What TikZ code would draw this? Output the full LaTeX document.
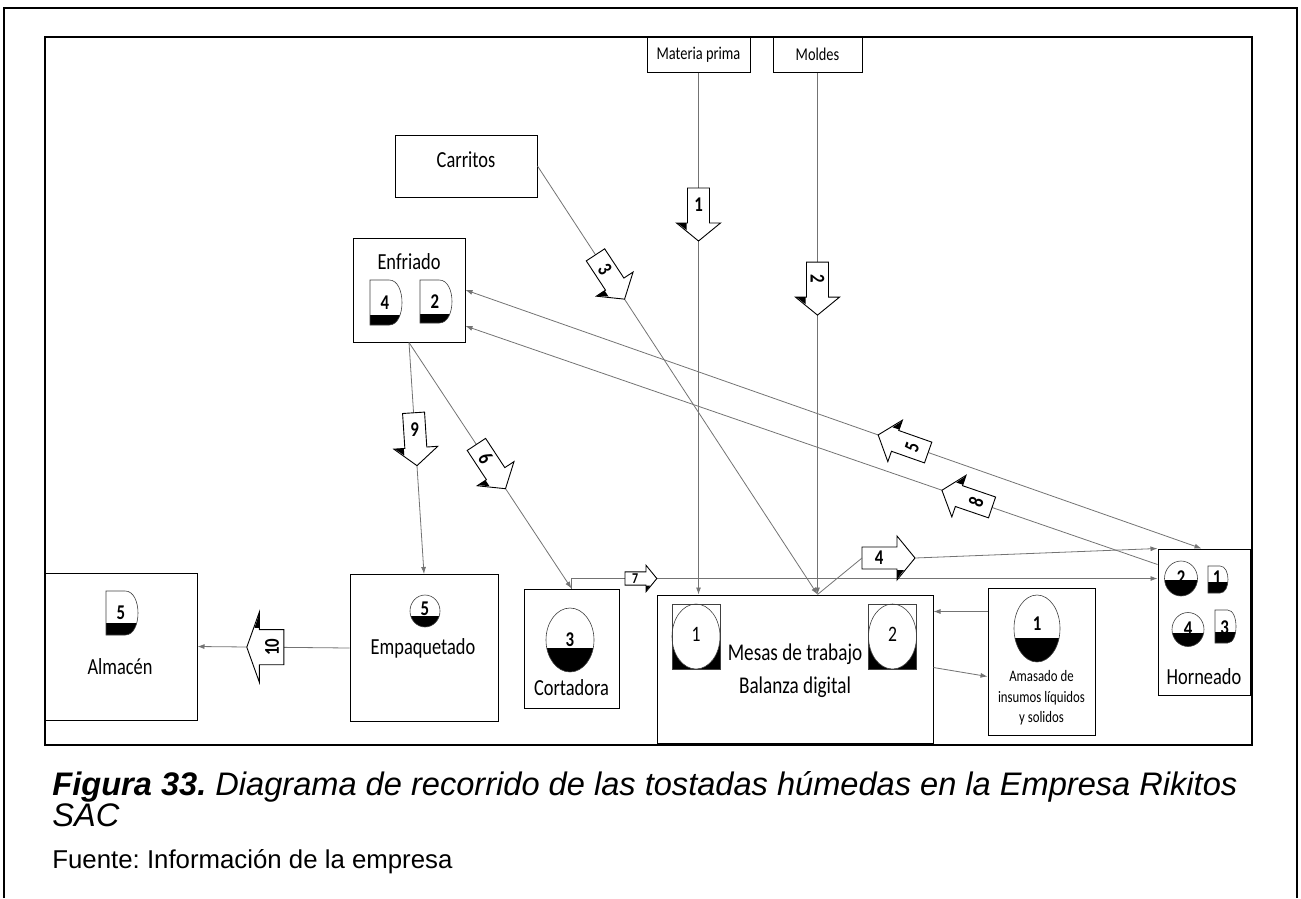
\documentclass[tikz,border=0pt]{standalone}
\usepackage{fontspec}
\usepackage{tikz}
\usetikzlibrary{arrows.meta,calc}
\newfontfamily\diagfont[FakeStretch=0.8]{Carlito}
\newfontfamily\capfont{Liberation Sans}
\frenchspacing
\tikzset{every picture/.style={line width=0.75pt}}
\tikzset{
  station/.style={draw, line width=1pt, inner sep=0pt},
  srcbox/.style={draw, line width=1pt, inner sep=0pt, font=\diagfont\fontsize{18}{20}\selectfont},
  lbl/.style={inner sep=0pt, align=center, font=\diagfont\fontsize{23}{26}\selectfont},
  link/.style={draw=black!55, line width=0.8pt},
  tip/.style={link, -{Latex[length=7pt,width=5pt]}},
  numfont/.style={inner sep=0pt, font=\diagfont\bfseries\fontsize{21}{21}\selectfont},
  symline/.style={line width=0.6pt, draw=black!75},
  % flow arrow with its number
  pics/flowarr/.style 2 args={code={
    \begin{scope}[yscale=-1]
    \draw[fill=white, line width=0.9pt] (-27,-11) -- (8,-11) -- (8,-22) -- (26,0) -- (8,22) -- (8,11) -- (-27,11) -- cycle;
    \fill (8,12) -- (15,12) -- (8,21) -- cycle;
    \coordinate (-tail) at (-27,0);
    \coordinate (-tip) at (26,0);
    \node[numfont, rotate=#2] at (-10,0) {#1};
    \end{scope}
  }},
  % operation: rx, ry, cut, number y, number
  pics/opsym/.style n args={5}{code={
    \begin{scope}[yscale=-1]
    \begin{scope}
      \clip (0,0) ellipse [x radius=#1, y radius=#2];
      \fill ({-#1},#3) rectangle (#1,#2);
    \end{scope}
    \draw[symline] (0,0) ellipse [x radius=#1, y radius=#2];
    \node[numfont] at (0,#4) {#5};
    \end{scope}
  }},
  % delay: w, h, cut, number y, number
  pics/delsym/.style n args={5}{code={
    \begin{scope}[yscale=-1]
    \begin{scope}
      \clip ({-#1/2},{-#2/2}) -- ({0.1*#1},{-#2/2}) .. controls ({0.633*#1},{-#2/2}) and ({0.633*#1},{#2/2}) .. ({0.1*#1},{#2/2}) -- ({-#1/2},{#2/2}) -- cycle;
      \fill ({-#1},#3) rectangle (#1,#2);
    \end{scope}
    \draw[symline] ({-#1/2},{-#2/2}) -- ({0.1*#1},{-#2/2}) .. controls ({0.633*#1},{-#2/2}) and ({0.633*#1},{#2/2}) .. ({0.1*#1},{#2/2}) -- ({-#1/2},{#2/2}) -- cycle;
    \node[numfont] at (-1,#4) {#5};
    \end{scope}
  }},
  % work table
  pics/tablesym/.style={code={
    \begin{scope}[yscale=-1]
    \fill (-24,0) rectangle (24,32.5);
    \fill[white] (0,0) ellipse [x radius=24, y radius=32.5];
    \draw[symline] (0,0) ellipse [x radius=24, y radius=32.5];
    \draw[symline] (-24,-32.5) rectangle (24,32.5);
    \node[inner sep=0pt, font=\diagfont\fontsize{22}{22}\selectfont] at (0,-2) {#1};
    \end{scope}
  }}
}

\begin{document}
\begin{tikzpicture}[x=1pt,y=1pt,yscale=-1]
\useasboundingbox (0,0) rectangle (1301,898);

% frames
\draw[line width=1.5pt] (4,898) -- (4,8) -- (1297,8) -- (1297,898);
\draw[line width=2.5pt] (45,37) rectangle (1252,745);

% sources
\node[srcbox, minimum width=103pt, minimum height=35pt] (mp) at (698.5,54.5) {Materia prima};
\node[srcbox, minimum width=89pt, minimum height=35pt] (moldes) at (817.5,54.5) {Moldes};
\node[station, minimum width=142pt, minimum height=62pt] (carritos) at (466,166) {};
\node[lbl] (carritos-t) at (466,160) {Carritos};

% stations
\node[station, minimum width=112pt, minimum height=104pt] (enfriado) at (409,290) {};
\node[lbl] (enfriado-t) at (409,262) {Enfriado};
\node[station, minimum width=92pt, minimum height=146pt] (horneado) at (1204,622) {};
\node[lbl] (horneado-t) at (1204,677) {Horneado};
\node[station, minimum width=276pt, minimum height=148pt] (mesas) at (795,669) {};
\node[lbl, font=\diagfont\fontsize{24}{33}\selectfont] (mesas-t) at (795,671) {Mesas de trabajo\\Balanza digital};
\node[station, minimum width=107pt, minimum height=147pt] (amasado) at (1041.5,661.5) {};
\node[lbl, font=\diagfont\fontsize{16}{20.5}\selectfont] (amasado-t) at (1041.5,698) {Amasado de\\insumos líquidos\\y solidos};
\node[station, minimum width=95pt, minimum height=119pt] (cortadora) at (571.5,648.5) {};
\node[lbl] (cortadora-t) at (571.5,688) {Cortadora};
\node[station, minimum width=148pt, minimum height=147pt] (empaq) at (424,648) {};
\node[lbl] (empaq-t) at (423,648) {Empaquetado};
\node[station, minimum width=152pt, minimum height=147pt] (almacen) at (121,646.5) {};
\node[lbl] (almacen-t) at (120,667) {Almacén};

% symbols
\pic at (386,302.5) {delsym={32}{45}{12}{0}{4}};
\pic at (436,301.5) {delsym={32}{43}{12}{0}{2}};
\pic at (122,613) {delsym={32}{44}{10}{0}{5}};
\pic at (1218,579.5) {delsym={20}{27}{2.5}{-2}{1}};
\pic at (1225.5,626.5) {delsym={21}{33}{5.5}{1.5}{3}};
\pic at (1181,578.5) {opsym={16.5}{17.5}{1.5}{-1}{2}};
\pic at (1188,629.5) {opsym={16}{17}{3.5}{-1}{4}};
\pic at (425,611) {opsym={15}{16}{5}{-2}{5}};
\pic at (570,640) {opsym={24}{32}{8}{0}{3}};
\pic at (1037,628.5) {opsym={23}{33.5}{9}{-5}{1}};
\pic at (696,636.5) {tablesym=1};
\pic at (892.5,636.5) {tablesym=2};

% end points
\coordinate (m1) at (mp.south |- mesas.north);
\coordinate (m2) at (moldes.south |- mesas.north);
\coordinate (h5) at ($(horneado.north west)+(44,0)$);
\coordinate (h8) at ($(horneado.north west)+(0,16)$);
\coordinate (e8) at ($(enfriado.east)+(0,36)$);
\coordinate (c7) at ($(cortadora.north)+(0,-10)$);
\coordinate (am1) at ($(amasado.north west)+(0,24)$);
\coordinate (am2) at ($(amasado.north west)+(0,89)$);
\coordinate (ms2) at ($(mesas.north east)+(0,73)$);

% connectors
\draw[tip] (mp.south) -- (m1);
\draw[tip] (moldes.south) -- (m2);
\draw[tip] (carritos.east) -- (m2);
\draw[link, {Latex[length=7pt,width=5pt]}-{Latex[length=7pt,width=5pt]}] (h5) -- (enfriado.east);
\draw[tip] (h8) -- (e8);
\draw[tip] (enfriado.south) -- (cortadora.north);
\draw[tip] (enfriado.south) -- (empaq.north);
\draw[tip] (cortadora.north) -- (c7) -- (c7 -| horneado.west);
\draw[tip] (empaq.west) -- (almacen.east);
\draw[tip] (am1) -- (am1 -| mesas.east);
\draw[tip] (ms2) -- (am2);

% flow arrows
\path (mp.south) -- (m1) coordinate[pos=0.273] (f1);
\path (moldes.south) -- (m2) coordinate[pos=0.415] (f2);
\path (carritos.east) -- (m2) coordinate[pos=0.26] (f3);
\path (h5) -- (enfriado.east) coordinate[pos=0.406] (f5);
\path (enfriado.south) -- (cortadora.north) coordinate[pos=0.506] (f6);
\path (c7) -- (c7 -| horneado.west) coordinate[pos=0.119] (f7);
\path (h8) -- (e8) coordinate[pos=0.276] (f8);
\path (enfriado.south) -- (empaq.north) coordinate[pos=0.42] (f9);
\path (empaq.west) -- (almacen.east) coordinate[pos=0.556] (f10);

\pic[rotate=-90] at (f1) {flowarr={1}{0}};
\pic[rotate=-90] at (f2) {flowarr={2}{-90}};
\pic[rotate=-56.7] at (f3) {flowarr={3}{-57}};
\pic (a4) at (889,558) {flowarr={4}{0}};
\draw[link] (m2) -- (a4-tail);
\draw[tip] (a4-tip) -- (horneado.north west);
\pic[rotate=-199.4] at (f5) {flowarr={5}{71}};
\pic[rotate=-56.7] at (f6) {flowarr={6}{-57}};
\pic[scale=0.6] at (f7) {flowarr={\fontsize{15}{15}\selectfont 7}{0}};
\pic[rotate=-198.9] at (f8) {flowarr={8}{70}};
\pic[rotate=-86.3] at (f9) {flowarr={9}{0}};
\pic[rotate=-180, xscale=0.7, yscale=1.6] at (f10) {flowarr={10}{90}};

% caption
\node[anchor=base west, inner sep=0pt, font=\capfont\fontsize{32.6}{32.6}\selectfont] (cap1) at (52,795) {\bfseries\itshape Figura 33.\mdseries{} Diagrama de recorrido de las tostadas húmedas en la Empresa Rikitos};
\node[anchor=base west, inner sep=0pt, font=\capfont\itshape\fontsize{32.6}{32.6}\selectfont] (cap2) at (52,826) {SAC};
\node[anchor=base west, inner sep=0pt, font=\capfont\fontsize{25.8}{25.8}\selectfont] (src) at (52,868) {Fuente: Información de la empresa};
\end{tikzpicture}
\end{document}
